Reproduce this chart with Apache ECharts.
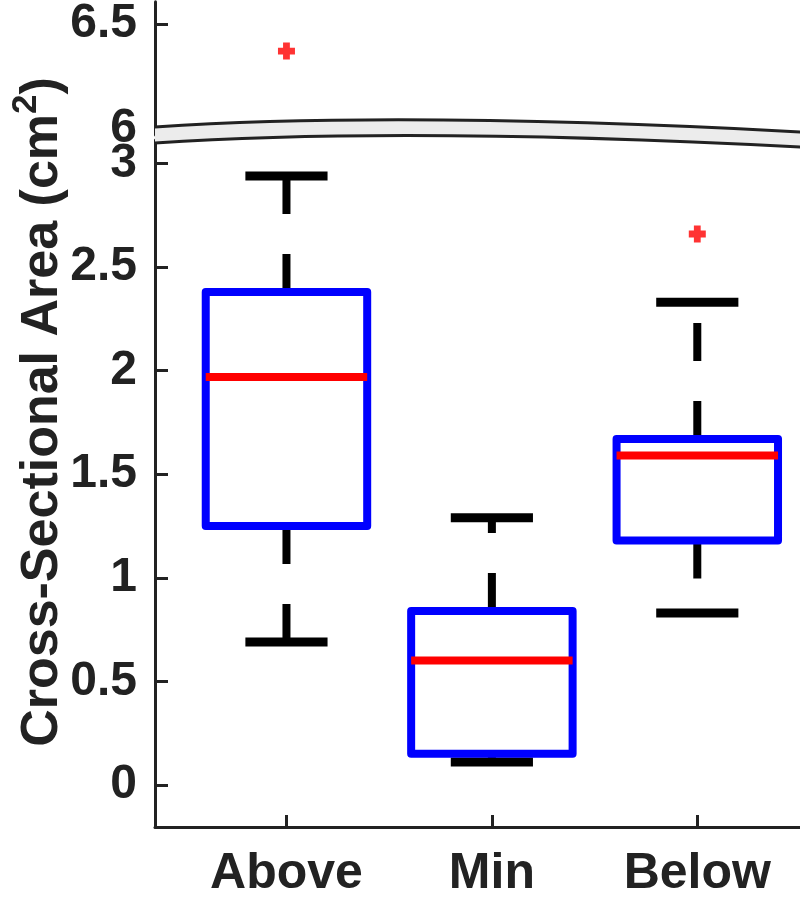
<!DOCTYPE html>
<html>
<head>
<meta charset="utf-8">
<script src="https://cdn.jsdelivr.net/npm/echarts@6/dist/echarts.min.js"></script>
<style>
  html, body { margin: 0; padding: 0; background: #fff; }
  #main { width: 800px; height: 899px; }
</style>
</head>
<body>
<div id="main"></div>
<script>
// box data
var categories = ["Above", "Min", "Below"];
var lowerWhisker = [0.69, 0.11, 0.83];
var q1 = [1.25, 0.15, 1.18];
var medians = [1.97, 0.60, 1.59];
var q3 = [2.38, 0.84, 1.67];
var upperWhisker = [2.94, 1.29, 2.33];
// outliers: [category position, value]
var outliers = [[1, 6.37], [3, 2.66]];

var lowTicks = [0, 0.5, 1, 1.5, 2, 2.5, 3];
var highTicks = [6, 6.5];
var breakAt = 3.1;

var FONT = '"Liberation Sans", Arial, sans-serif';
var INK = "#222";

var chart = echarts.init(document.getElementById("main"));

var boxData = [];
for (var i = 0; i < categories.length; i++) {
  boxData.push([i + 1, lowerWhisker[i], q1[i], medians[i], q3[i], upperWhisker[i]]);
}
var topOutliers = outliers.filter(function (d) { return d[1] > breakAt; });
var lowOutliers = outliers.filter(function (d) { return d[1] <= breakAt; });

function renderBox(params, api) {
  var x = api.value(0);
  var lo = api.coord([x, api.value(1)]);
  var b1 = api.coord([x, api.value(2)]);
  var md = api.coord([x, api.value(3)]);
  var b3 = api.coord([x, api.value(4)]);
  var hi = api.coord([x, api.value(5)]);
  var cx = lo[0];
  var hb = api.coord([x + 0.393, 0])[0] - cx;
  var hc = api.coord([x + 0.2, 0])[0] - cx;
  var whisker = { stroke: "#000", lineWidth: 8, lineDash: [38, 40] };
  var cap = { stroke: "#000", lineWidth: 9 };
  return {
    type: "group",
    children: [
      { type: "line", shape: { x1: cx, y1: b3[1], x2: cx, y2: hi[1] }, style: whisker },
      { type: "line", shape: { x1: cx, y1: b1[1], x2: cx, y2: lo[1] }, style: whisker },
      { type: "line", shape: { x1: cx - hc, y1: hi[1], x2: cx + hc, y2: hi[1] }, style: cap },
      { type: "line", shape: { x1: cx - hc, y1: lo[1], x2: cx + hc, y2: lo[1] }, style: cap },
      {
        type: "rect",
        shape: { x: cx - hb, y: b3[1], width: 2 * hb, height: b1[1] - b3[1] },
        style: { fill: "#fff", stroke: "#0000ff", lineWidth: 8, lineJoin: "round" }
      },
      {
        type: "line",
        shape: { x1: cx - hb, y1: md[1], x2: cx + hb, y2: md[1] },
        style: { stroke: "#ff0000", lineWidth: 8 }
      }
    ]
  };
}

// axis break band: two quadratic curves
var bandTop = { x1: 155, y1: 127, x2: 802, y2: 132, cpx1: 402, cpy1: 110.5 };
var bandBot = { x1: 155, y1: 143, x2: 802, y2: 147, cpx1: 402, cpy1: 126 };
function quadPoints(c, n) {
  var pts = [];
  for (var k = 0; k <= n; k++) {
    var t = k / n, u = 1 - t;
    pts.push([u * u * c.x1 + 2 * u * t * c.cpx1 + t * t * c.x2,
              u * u * c.y1 + 2 * u * t * c.cpy1 + t * t * c.y2]);
  }
  return pts;
}
var bandFill = quadPoints(bandTop, 40).concat(quadPoints(bandBot, 40).reverse());

var plusSymbol = "path://M3,0H7V3H10V7H7V10H3V7H0V3H3Z";

var axisLineStyle = { show: true, onZero: false, lineStyle: { color: INK, width: 3 } };
var tickStyle = { color: INK, width: 3 };
var labelStyle = { fontSize: 48, fontWeight: "bold", fontFamily: FONT, color: INK };

var option = {
  animation: false,
  backgroundColor: "#fff",
  grid: [
    { left: 155, top: 0, width: 647, height: 135 },
    { left: 155, top: 140, width: 647, height: 701 }
  ],
  xAxis: [
    { gridIndex: 0, type: "value", min: 0.36, max: 3.5, show: false },
    {
      gridIndex: 1, type: "value", min: 0.36, max: 3.5,
      axisLine: axisLineStyle,
      axisTick: { show: true, inside: true, length: 12, customValues: [1, 2, 3], lineStyle: tickStyle },
      axisLabel: Object.assign({}, labelStyle, {
        customValues: [1, 2, 3],
        margin: 22,
        fontSize: 50,
        formatter: function (v) { return categories[Math.round(v) - 1]; }
      }),
      splitLine: { show: false }
    }
  ],
  yAxis: [
    {
      gridIndex: 0, type: "value", min: 5.968, max: 6.607,
      axisLine: axisLineStyle,
      axisTick: { show: true, inside: true, length: 13, customValues: highTicks, lineStyle: tickStyle },
      axisLabel: Object.assign({ customValues: highTicks, margin: 18 }, labelStyle),
      splitLine: { show: false }
    },
    {
      gridIndex: 1, type: "value", min: -0.2035, max: 3.114,
      axisLine: axisLineStyle,
      axisTick: { show: true, inside: true, length: 13, customValues: lowTicks, lineStyle: tickStyle },
      axisLabel: Object.assign({ customValues: lowTicks, margin: 18 }, labelStyle),
      splitLine: { show: false }
    }
  ],
  series: [
    {
      type: "custom",
      xAxisIndex: 1,
      yAxisIndex: 1,
      data: boxData,
      encode: { x: 0, y: [1, 2, 3, 4, 5] },
      renderItem: renderBox
    },
    {
      type: "scatter",
      xAxisIndex: 0,
      yAxisIndex: 0,
      symbol: plusSymbol,
      symbolSize: 17,
      itemStyle: { color: "#ff0000" },
      data: topOutliers
    },
    {
      type: "scatter",
      xAxisIndex: 1,
      yAxisIndex: 1,
      symbol: plusSymbol,
      symbolSize: 17,
      itemStyle: { color: "#ff0000" },
      data: lowOutliers
    }
  ],
  graphic: [
    {
      type: "polygon", z: 100,
      shape: { points: bandFill },
      style: { fill: "#ececec", stroke: null }
    },
    {
      type: "bezierCurve", z: 101,
      shape: bandTop,
      style: { stroke: INK, lineWidth: 3, fill: null }
    },
    {
      type: "bezierCurve", z: 101,
      shape: bandBot,
      style: { stroke: INK, lineWidth: 3, fill: null }
    },
    {
      type: "text", z: 100,
      x: 40, y: 412,
      rotation: Math.PI / 2,
      style: {
        text: "{a|Cross-Sectional Area (cm}{sup|2}{a|)}",
        align: "center",
        verticalAlign: "middle",
        fill: INK,
        rich: {
          a: { fontSize: 52, fontWeight: "bold", fontFamily: FONT, fill: INK, verticalAlign: "bottom", lineHeight: 58 },
          sup: { fontSize: 35, fontWeight: "bold", fontFamily: FONT, fill: INK, verticalAlign: "bottom", lineHeight: 42, padding: [0, 0, 25, 0] }
        }
      }
    }
  ]
};

chart.setOption(option);
</script>
</body>
</html>
